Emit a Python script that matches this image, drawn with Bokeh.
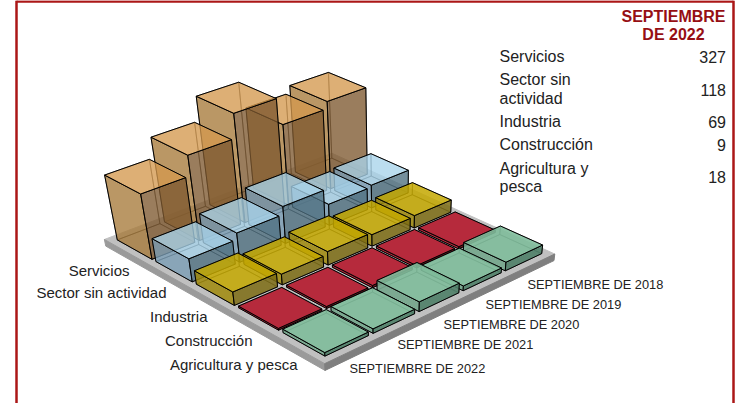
import numpy as np
from bokeh.plotting import figure
from bokeh.models import ColumnDataSource, Range1d
from bokeh.core.properties import value
from bokeh.embed import file_html
from bokeh.resources import INLINE

years = ["SEPTIEMBRE DE 2018", "SEPTIEMBRE DE 2019", "SEPTIEMBRE DE 2020", "SEPTIEMBRE DE 2021", "SEPTIEMBRE DE 2022"]
sectors = ["Servicios", "Sector sin actividad", "Industria", "Construcción", "Agricultura y pesca"]
servicios = [445, 410, 540, 425, 327]
sin_actividad = [120, 110, 190, 150, 118]
industria = [65, 60, 70, 55, 69]
construccion = [12, 12, 12, 10, 9]
agricultura = [45, 25, 50, 23, 18]
series = [servicios, sin_actividad, industria, construccion, agricultura]

FONT = "Liberation Sans"
G = 0.05
# camera calibration: (year axis, sector axis, height) -> page pixel
calib = [
    (4.95, .05, 0, 117, 237), (4.95, .95, 0, 149, 258),
    (4.95, .05, 327, 106, 176), (4.05, .05, 327, 147, 161), (4.05, .95, 327, 182, 177), (4.95, .95, 327, 138, 192),
    (.95, .05, 445, 293, 85), (.05, .05, 445, 330, 73), (.05, .95, 445, 364, 86), (.95, .95, 445, 327, 98),
    (2.95, .05, 540, 199, 97), (2.05, .05, 540, 240, 84), (2.05, .95, 540, 274, 98), (2.95, .95, 540, 233, 112),
    (4.95, 1.05, 118, 153, 241), (4.05, 1.05, 118, 193, 224), (4.05, 1.95, 118, 228, 242), (4.95, 1.95, 118, 187, 257),
    (4.95, 1.05, 0, 157, 260), (4.95, 1.95, 0, 190, 280),
    (3.95, 1.05, 150, 202, 215), (3.05, 1.05, 150, 240, 199), (3.05, 1.95, 150, 275, 216), (3.95, 1.95, 150, 235, 231),
    (2.95, 1.05, 190, 247, 187), (2.05, 1.05, 190, 285, 173), (2.05, 1.95, 190, 320, 188), (2.95, 1.95, 190, 282, 203),
    (1.95, 1.05, 110, 293, 183), (1.05, 1.05, 110, 328, 170), (1.05, 1.95, 110, 363, 186), (1.95, 1.95, 110, 327, 200),
    (4.95, 2.05, 69, 197, 273), (4.05, 2.05, 69, 235, 257), (4.05, 2.95, 69, 273, 273), (4.95, 2.95, 69, 232, 290),
    (4.95, 2.05, 0, 199, 285), (4.95, 2.95, 0, 232, 303),
    (4.95, 3.05, 9, 241, 307), (4.05, 3.05, 9, 280, 289), (4.05, 3.95, 9, 317, 307), (4.95, 3.95, 9, 277, 326),
    (.95, 3.05, 12, 422, 230), (.05, 3.05, 12, 457, 213), (.05, 3.95, 12, 492, 230), (.95, 3.95, 12, 458, 245),
    (4.95, 4.05, 18, 286, 331), (4.05, 4.05, 18, 326, 312), (4.05, 4.95, 18, 366, 332), (4.95, 4.95, 18, 325, 350),
    (4.95, 4.05, 0, 286, 334), (4.95, 4.95, 0, 325, 354),
    (.95, 4.05, 45, 467, 247), (.05, 4.05, 45, 502, 229), (.05, 4.95, 45, 540, 247), (.95, 4.95, 45, 505, 260),
    (.95, 4.95, 0, 505, 268),
    (2.95, 4.05, 50, 381, 283), (2.05, 4.05, 50, 418, 265), (2.05, 4.95, 50, 457, 282), (2.95, 4.95, 50, 418, 299),
    (.95, 2.05, 65, 377, 198), (.05, 2.05, 65, 415, 183), (.05, 2.95, 65, 447, 203), (.95, 2.95, 65, 413, 213),
    (.95, 2.95, 0, 413, 227),
    (.95, 1.05, 120, 336, 167), (.05, 1.05, 120, 371, 153), (.05, 1.95, 120, 404, 167), (.95, 1.95, 120, 370, 180),
    (5.1, -.1, 0, 104, 237), (5.1, 5.1, 0, 327, 360), (-.1, 5.1, 0, 555, 252),
]
weights = np.ones(len(calib) * 2)
for _ in range(12):
    A = []
    for u, v, h, x, y in calib:
        h, x, y = h / 100, x / 400, y / 400
        A.append([u, v, h, 1, 0, 0, 0, 0, -x * u, -x * v, -x * h, -x])
        A.append([0, 0, 0, 0, u, v, h, 1, -y * u, -y * v, -y * h, -y])
    A = np.array(A, float)
    Pn = np.linalg.svd(A * weights[:, None])[2][-1]
    w = np.array([Pn[8] * u + Pn[9] * v + Pn[10] * h / 100 + Pn[11] for u, v, h, _, _ in calib])
    weights = np.repeat(1 / np.abs(w), 2)
P = Pn.reshape(3, 4)


def proj(u, v, h):
    q = P @ np.array([u, v, h / 100, 1.0])
    return 400 * q[0] / q[2], 400 * q[1] / q[2]


xs, ys, fills, alphas, lines, lalphas = [], [], [], [], [], []


def face(pts, color, alpha, line="#000000", line_alpha=1.0):
    c = [proj(*pt) for pt in pts]
    xs.append([a for a, _ in c])
    ys.append([b for _, b in c])
    fills.append(color)
    alphas.append(alpha)
    lines.append(line)
    lalphas.append(line_alpha)


# slab
M, T = .1, -35
a, b, c, d = (5 + M, -M), (5 + M, 5 + M), (-M, 5 + M), (-M, -M)
face([(*a, 0), (*b, 0), (*c, 0), (*d, 0)], "#c0c0c0", 1, "#c0c0c0")
face([(*a, 0), (*b, 0), (*b, T), (*a, T)], "#9a9a9a", 1, "#9a9a9a")
face([(*b, 0), (*c, 0), (*c, T), (*b, T)], "#7f7f7f", 1, "#7f7f7f")

palette = [
    ("#d3984e", "#a77a3a", "#7e582f", .78),
    ("#a8d3eb", "#7a9eb6", "#4e7080", .78),
    ("#c4a800", "#a08a0c", "#7c6c14", .85),
    ("#b62a3c", "#b62a3c", "#701820", 1),
    ("#7fbc9b", "#74a68c", "#4f8068", .9),
]

order = sorted(((i, j) for i in range(5) for j in range(5)), key=lambda t: t[0] + t[1])
for i, j in order:
    h = series[i][j]
    top, left, right, al = palette[i]
    u0, u1, v0, v1 = j + G, j + 1 - G, i + G, i + 1 - G
    # hidden faces first, so that their edges show through faintly
    face([(u0, v0, 0), (u1, v0, 0), (u1, v1, 0), (u0, v1, 0)], top, 0, line_alpha=.5)
    face([(u0, v0, 0), (u1, v0, 0), (u1, v0, h), (u0, v0, h)], left, 0, line_alpha=.5)
    face([(u0, v0, 0), (u0, v1, 0), (u0, v1, h), (u0, v0, h)], right, 0, line_alpha=.5)
    # visible faces
    face([(u1, v0, 0), (u1, v1, 0), (u1, v1, h), (u1, v0, h)], left, al)
    face([(u1, v1, 0), (u0, v1, 0), (u0, v1, h), (u1, v1, h)], right, al)
    face([(u0, v0, h), (u1, v0, h), (u1, v1, h), (u0, v1, h)], top, al)

p = figure(width=740, height=403, x_range=Range1d(0, 740), y_range=Range1d(403, 0),
           output_backend="svg", toolbar_location=None, min_border=0,
           outline_line_color=None)
p.axis.visible = False
p.grid.visible = False

p.patches("xs", "ys", source=ColumnDataSource(dict(xs=xs, ys=ys, f=fills, a=alphas, l=lines, la=lalphas)),
          fill_color="f", fill_alpha="a", line_color="l", line_alpha="la", line_width=1)

# frame
p.segment([16, 733, 16], [0, 0, 1], [16, 733, 733], [403, 403, 1], line_color="#ab1717", line_width=2.5)

TXT = "#222222"
sx = [129, 166, 207, 252, 297]
sy = [270, 292, 316, 340, 364]
p.text(sx, sy, text=sectors, text_align="right", text_baseline="middle",
       text_font=value(FONT), text_font_size="15px", text_color=TXT)
yx = [527, 485, 443, 397, 349]
yy = [284, 304, 324, 344, 368]
p.text(yx, yy, text=years, text_align="left", text_baseline="middle",
       text_font=value(FONT), text_font_size="12.8px", text_color=TXT)

p.text([673, 673], [16, 34], text=["SEPTIEMBRE", "DE 2022"], text_align="center", text_baseline="middle",
       text_font=value(FONT), text_font_style="bold", text_font_size="16px", text_color="#960f14")
p.text([499] * 7, [56, 79, 98, 121, 144, 168, 186],
       text=["Servicios", "Sector sin", "actividad", "Industria", "Construcción", "Agricultura y", "pesca"],
       text_align="left", text_baseline="middle", text_font=value(FONT), text_font_size="16px", text_color=TXT)
p.text([725.5] * 5, [56, 89, 121, 144, 176], text=[str(s[-1]) for s in series],
       text_align="right", text_baseline="middle", text_font=value(FONT), text_font_size="16px", text_color=TXT)

open("out.html", "w").write(file_html(p, INLINE))
